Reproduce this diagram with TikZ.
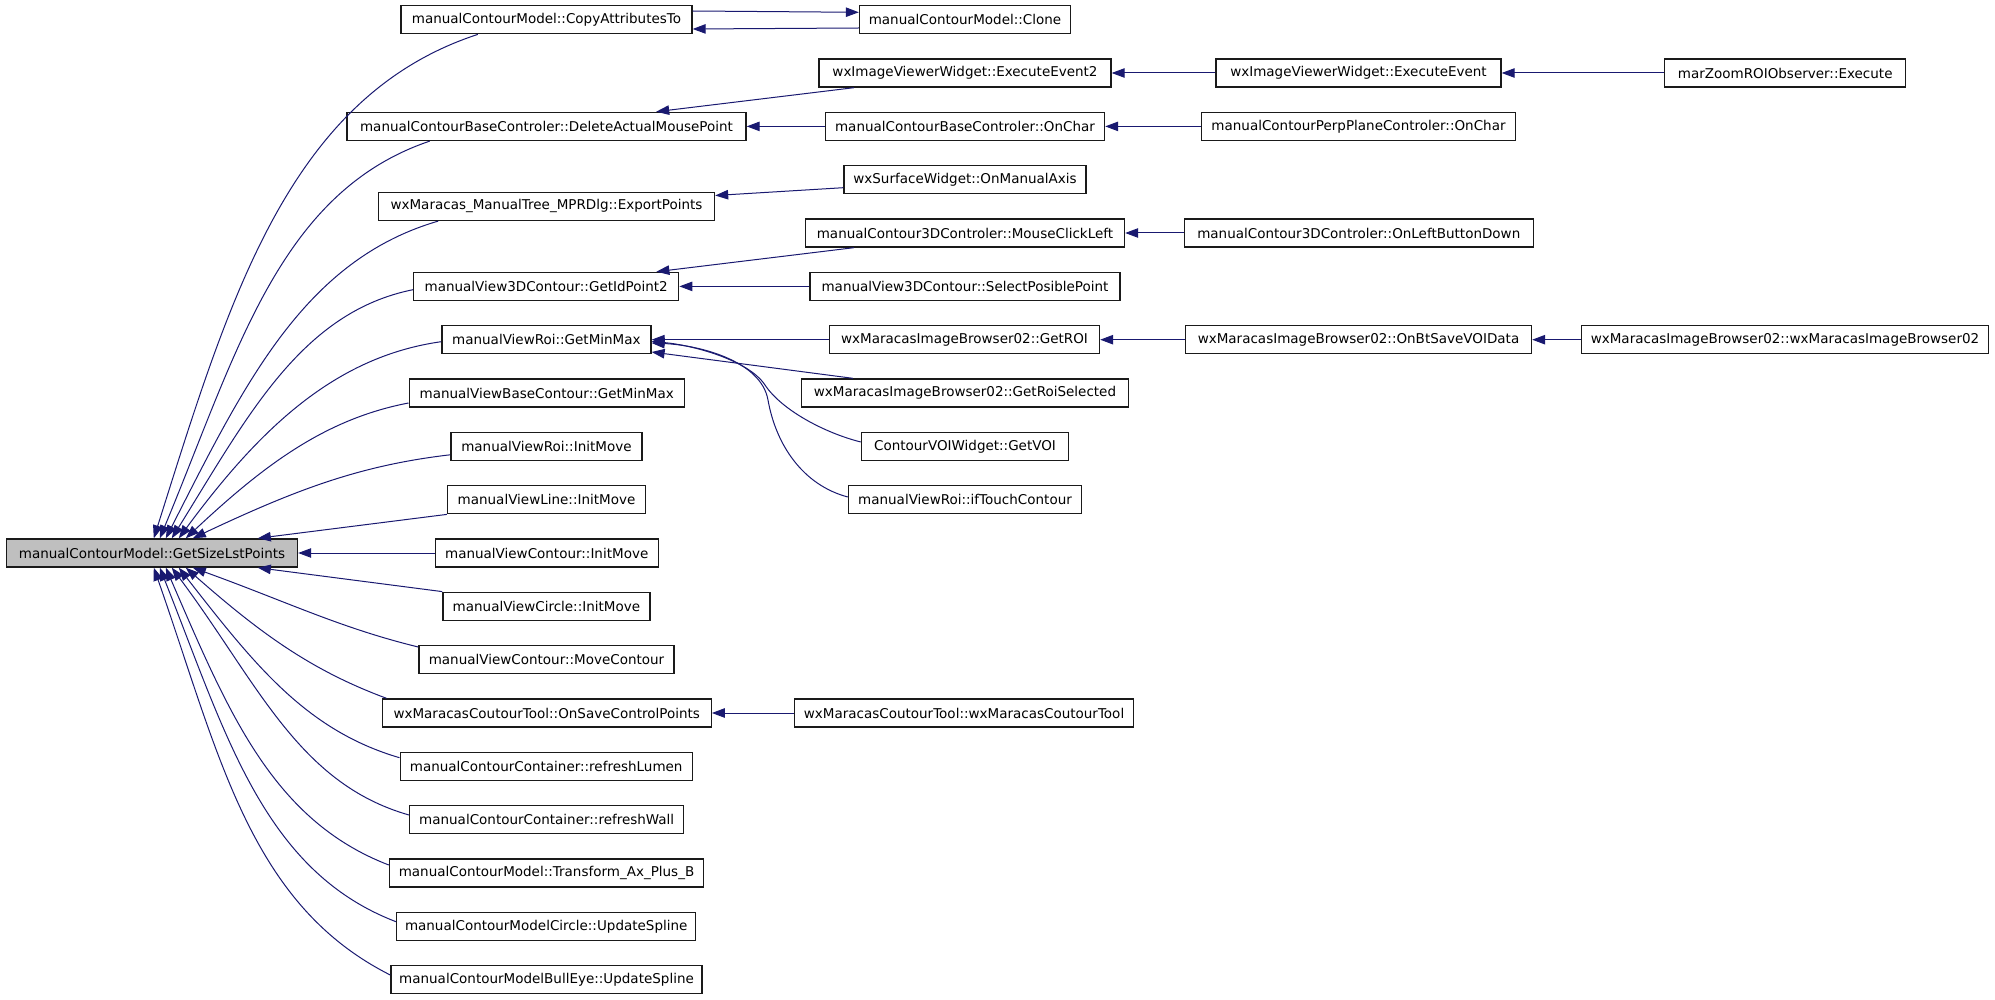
\documentclass[tikz,border=0pt]{standalone}
\usepackage{fontspec}
\setmainfont{DejaVu Sans}
\usetikzlibrary{arrows.meta}
\definecolor{edgec}{HTML}{191970}
\definecolor{boxc}{HTML}{1A1A1A}
\definecolor{mainfill}{HTML}{BFBFBF}
\newcommand{\fsz}{\fontsize{13.5}{16}\selectfont}
\begin{document}
\begin{tikzpicture}[x=1pt,y=1pt,
  box/.style={draw=boxc, line width=1.4pt, fill=white, minimum height=28pt,
    inner xsep=3pt, inner ysep=0pt, font=\fsz, text=black},
  mainbox/.style={box, fill=mainfill},
  edge/.style={draw=edgec, line width=1pt, -{Triangle[length=13pt,width=9.5pt]}}]
\useasboundingbox (0,0) rectangle (1995,-1000);

% ---------- main node ----------
\node[mainbox, minimum width=291pt] (main) at (152,-553) {manualContourModel::GetSizeLstPoints};

% ---------- left column (callers of main) ----------
\node[box, minimum width=291pt] (copy)      at (546.5,-19.7)  {manualContourModel::CopyAttributesTo};
\node[box, minimum width=399pt] (delete)    at (546.5,-126.4) {manualContourBaseControler::DeleteActualMousePoint};
\node[box, minimum width=336pt] (export)    at (546.5,-206.4) {wxMaracas\_ManualTree\_MPRDlg::ExportPoints};
\node[box, minimum width=265pt] (getid)     at (546.2,-286.4) {manualView3DContour::GetIdPoint2};
\node[box, minimum width=209pt] (gmm)       at (546.4,-339.7) {manualViewRoi::GetMinMax};
\node[box, minimum width=275pt] (bgmm)      at (546.7,-393.0) {manualViewBaseContour::GetMinMax};
\node[box, minimum width=191pt] (roiinit)   at (546.4,-446.3) {manualViewRoi::InitMove};
\node[box, minimum width=198pt] (lineinit)  at (546.5,-499.7) {manualViewLine::InitMove};
\node[box, minimum width=223pt] (ci)        at (546.7,-553.0) {manualViewContour::InitMove};
\node[box, minimum width=207pt] (circinit)  at (546.4,-606.3) {manualViewCircle::InitMove};
\node[box, minimum width=255pt] (move)      at (546.5,-659.7) {manualViewContour::MoveContour};
\node[box, minimum width=329pt] (savecp)    at (546.7,-713.0) {wxMaracasCoutourTool::OnSaveControlPoints};
\node[box, minimum width=292pt] (lumen)     at (546.2,-766.3) {manualContourContainer::refreshLumen};
\node[box, minimum width=274pt] (wall)      at (546.7,-819.6) {manualContourContainer::refreshWall};
\node[box, minimum width=314pt] (transform) at (546.5,-873.0) {manualContourModel::Transform\_Ax\_Plus\_B};
\node[box, minimum width=299pt] (cs)        at (546.2,-926.3) {manualContourModelCircle::UpdateSpline};
\node[box, minimum width=311pt] (be)        at (546.5,-979.6) {manualContourModelBullEye::UpdateSpline};

% ---------- second column ----------
\node[box, minimum width=211pt] (clone)   at (965,-19.7)  {manualContourModel::Clone};
\node[box, minimum width=292pt] (ee2)     at (965,-73.0)  {wxImageViewerWidget::ExecuteEvent2};
\node[box, minimum width=279pt] (onchar)  at (965,-126.4) {manualContourBaseControler::OnChar};
\node[box, minimum width=242pt] (axis)    at (965,-179.7) {wxSurfaceWidget::OnManualAxis};
\node[box, minimum width=319pt] (mcl)     at (965,-233.0) {manualContour3DControler::MouseClickLeft};
\node[box, minimum width=310pt] (selpos)  at (965,-286.4) {manualView3DContour::SelectPosiblePoint};
\node[box, minimum width=270pt] (getroi)  at (964.5,-339.7) {wxMaracasImageBrowser02::GetROI};
\node[box, minimum width=327pt] (roisel)  at (965,-393.0) {wxMaracasImageBrowser02::GetRoiSelected};
\node[box, minimum width=207pt] (getvoi)  at (965,-446.3) {ContourVOIWidget::GetVOI};
\node[box, minimum width=233pt] (iftouch) at (965,-499.7) {manualViewRoi::ifTouchContour};
\node[box, minimum width=339pt] (ctt)     at (964,-713.0) {wxMaracasCoutourTool::wxMaracasCoutourTool};

% ---------- third column ----------
\node[box, minimum width=285pt] (ee)      at (1358.5,-73.0)  {wxImageViewerWidget::ExecuteEvent};
\node[box, minimum width=314pt] (perp)    at (1358.5,-126.4) {manualContourPerpPlaneControler::OnChar};
\node[box, minimum width=349pt] (olbd)    at (1358.8,-233.0) {manualContour3DControler::OnLeftButtonDown};
\node[box, minimum width=346pt] (savevoi) at (1358.5,-339.7) {wxMaracasImageBrowser02::OnBtSaveVOIData};

% ---------- fourth column ----------
\node[box, minimum width=241pt] (mar)    at (1785.2,-73.0)  {marZoomROIObserver::Execute};
\node[box, minimum width=407pt] (ctor02) at (1785,-339.7)   {wxMaracasImageBrowser02::wxMaracasImageBrowser02};

% ---------- helper coordinates for routed curves ----------
\coordinate (vm) at (765,-385);
\coordinate (tm) at (768,-400);

% ---------- edges into main (top side) ----------
\draw[edge] ([xshift=77.5pt]copy.south west) .. controls +(-190,-62) and +(75,237.5) .. ([xshift=148pt]main.north west);
\draw[edge] ([xshift=83.5pt]delete.south west) .. controls +(-151,-51) and +(77,185) .. ([xshift=154pt]main.north west);
\draw[edge] ([xshift=60.4pt]export.south west) .. controls +(-134,-39) and +(79,155) .. ([xshift=160pt]main.north west);
\draw[edge] ([yshift=-3.3pt]getid.west) .. controls +(-112,-22.5) and +(75.5,121.4) .. ([xshift=166pt]main.north west);
\draw[edge] ([yshift=-2pt]gmm.west) .. controls +(-107,-15) and +(80,108.5) .. ([xshift=173pt]main.north west);
\draw[edge] ([yshift=-10pt]bgmm.west) .. controls +(-83.5,-16) and +(78,73) .. ([xshift=180pt]main.north west);
\draw[edge] ([yshift=-8.5pt]roiinit.west) .. controls +(-90,-10.5) and +(104,49) .. ([xshift=187pt]main.north west);
\draw[edge] (lineinit.south west) -- ([xshift=252pt]main.north west);
\draw[edge] (ci.west) -- (main.east);
% ---------- edges into main (bottom side) ----------
\draw[edge] (circinit.north west) -- ([xshift=252pt]main.south west);
\draw[edge] ([yshift=-2pt]move.north west) .. controls +(-78,19) and +(94,-34) .. ([xshift=187pt]main.south west);
\draw[edge] ([xshift=5pt]savecp.north west) .. controls +(-75,27.8) and +(75,-66) .. ([xshift=180pt]main.south west);
\draw[edge] ([yshift=8.6pt]lumen.west) .. controls +(-94,27.5) and +(75,-96) .. ([xshift=173pt]main.south west);
\draw[edge] ([yshift=4.6pt]wall.west) .. controls +(-111,31.6) and +(86,-115) .. ([xshift=166pt]main.south west);
\draw[edge] ([yshift=8pt]transform.west) .. controls +(-117,45) and +(62,-143) .. ([xshift=160pt]main.south west);
\draw[edge] ([yshift=4.6pt]cs.west) .. controls +(-133,51) and +(66,-166) .. ([xshift=154pt]main.south west);
\draw[edge] ([yshift=4.6pt]be.west) .. controls +(-141,71) and +(65.5,-187) .. ([xshift=148pt]main.south west);

% ---------- other edges ----------
\draw[edge] ([yshift=8.7pt]copy.east) -- ([yshift=7.4pt]clone.west);
\draw[edge] ([yshift=-8.3pt]clone.west) -- ([yshift=-9.3pt]copy.east);
\draw[edge] (ee.west) -- (ee2.east);
\draw[edge] (mar.west) -- (ee.east);
\draw[edge] ([xshift=35.6pt]ee2.south west) -- ([xshift=-90.5pt]delete.north east);
\draw[edge] (onchar.west) -- (delete.east);
\draw[edge] (perp.west) -- (onchar.east);
\draw[edge] ([yshift=-8pt]axis.west) -- ([yshift=10.9pt]export.east);
\draw[edge] (olbd.west) -- (mcl.east);
\draw[edge] ([xshift=49pt]mcl.south west) -- ([xshift=-23pt]getid.north east);
\draw[edge] (selpos.west) -- (getid.east);
\draw[edge] (getroi.west) -- (gmm.east);
\draw[edge] (savevoi.west) -- (getroi.east);
\draw[edge] (ctor02.west) -- (savevoi.east);
\draw[edge] ([xshift=52pt]roisel.north west) -- ([yshift=-12.3pt]gmm.east);
\draw[edge] ([yshift=4.3pt]getvoi.west) .. controls +(-36,9) and +(16.5,-25) .. (vm)
            .. controls +(-16.5,25) and +(40.5,-3.5) .. ([yshift=-1.8pt]gmm.east);
\draw[edge] ([yshift=2.7pt]iftouch.west) .. controls +(-45,12) and +(8,-45) .. (tm)
            .. controls +(-7,40) and +(45.5,-2) .. ([yshift=-3.3pt]gmm.east);
\draw[edge] (ctt.west) -- (savecp.east);
\end{tikzpicture}
\end{document}
